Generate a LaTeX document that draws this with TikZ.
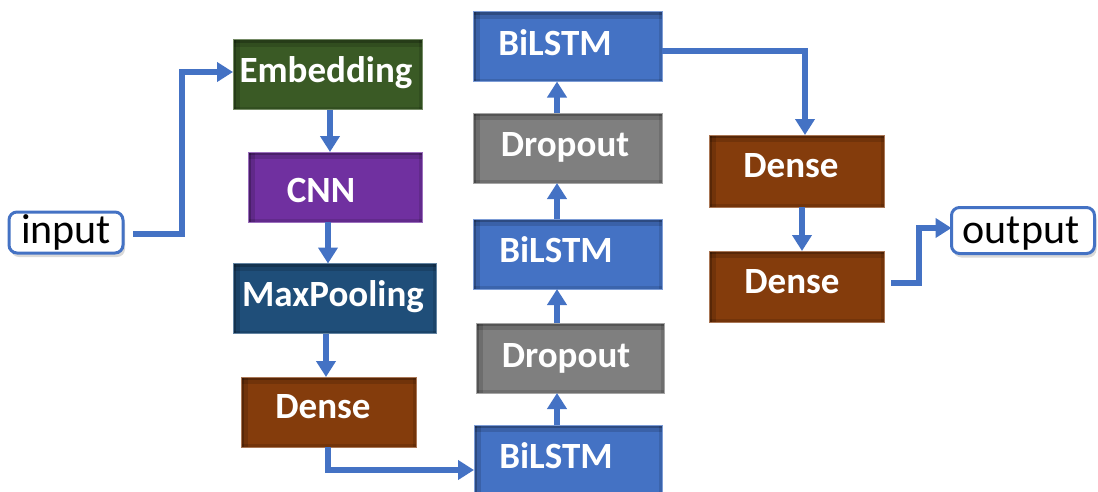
\documentclass[tikz,border=0pt]{standalone}
\usepackage{fontspec}
\setmainfont{Carlito}
\usetikzlibrary{arrows.meta,shadows}
\definecolor{arrowblue}{HTML}{4472C4}
\definecolor{embgreen}{HTML}{3A5A25}
\definecolor{cnnpurple}{HTML}{7030A0}
\definecolor{poolblue}{HTML}{1F4E79}
\definecolor{densebrown}{HTML}{843C0C}
\definecolor{lstmblue}{HTML}{4472C4}
\definecolor{dropgray}{HTML}{7F7F7F}
\tikzset{
  layer/.style={rectangle, outer sep=0pt, inner sep=0pt, fill=#1, draw=#1!70!white, line width=1pt,
    path picture={
      \fill[black,opacity=0.22] (path picture bounding box.north west) rectangle ([yshift=-3pt]path picture bounding box.north east);
      \fill[black,opacity=0.14] (path picture bounding box.north west) rectangle ([yshift=-7pt]path picture bounding box.north east);
      \fill[black,opacity=0.22] (path picture bounding box.north west) rectangle ([xshift=3pt]path picture bounding box.south west);
      \fill[black,opacity=0.14] (path picture bounding box.north west) rectangle ([xshift=7pt]path picture bounding box.south west);
      \fill[black,opacity=0.12] ([xshift=-3pt]path picture bounding box.north east) rectangle (path picture bounding box.south east);
      \fill[black,opacity=0.12] ([yshift=3pt]path picture bounding box.south west) rectangle (path picture bounding box.south east);
    }},
  lbl/.style={anchor=base, inner sep=0pt, text=white, font=\fontsize{37}{40}\selectfont\bfseries},
  iobox/.style={rectangle, rounded corners=8pt, fill=white, draw=arrowblue, line width=3pt, outer sep=0pt,
    drop shadow={opacity=0.3, shadow xshift=2pt, shadow yshift=-4pt}},
  iolbl/.style={anchor=base, inner sep=0pt, text=black, font=\fontsize{42}{45}\selectfont},
  arr/.style={draw=arrowblue, line width=6pt, -{Triangle[width=19pt,length=16pt]}},
}
\begin{document}
\begin{tikzpicture}[x=1pt,y=-1pt]
\useasboundingbox (0,0) rectangle (1098,491);
% boxes
\node[layer=embgreen, minimum width=189pt, minimum height=70pt] (emb) at (327.5,74.5) {};
\node[layer=cnnpurple, minimum width=174pt, minimum height=70pt] (cnn) at (335,187) {};
\node[layer=poolblue, minimum width=203pt, minimum height=70pt] (pool) at (334.5,298.5) {};
\node[layer=densebrown, minimum width=175pt, minimum height=70pt] (dense1) at (328.5,412) {};
\node[layer=lstmblue, minimum width=188pt, minimum height=70pt] (lstm1) at (568,460) {};
\node[layer=dropgray, minimum width=188pt, minimum height=70pt] (drop1) at (570,358) {};
\node[layer=lstmblue, minimum width=189pt, minimum height=70pt] (lstm2) at (567.5,254) {};
\node[layer=dropgray, minimum width=189pt, minimum height=70pt] (drop2) at (567.5,148) {};
\node[layer=lstmblue, minimum width=189pt, minimum height=70pt] (lstm3) at (567.5,46.5) {};
\node[layer=densebrown, minimum width=175pt, minimum height=72pt] (dense2) at (796.5,171) {};
\node[layer=densebrown, minimum width=175pt, minimum height=71pt] (dense3) at (796.5,286.5) {};
\node[iobox, minimum width=114pt, minimum height=41pt] (in) at (66,232.5) {};
\node[iobox, minimum width=143pt, minimum height=46pt] (out) at (1023,230.5) {};
% labels
\node[lbl] (tEmb) at (326,82) {Embedding};
\node[lbl] (tCnn) at (321,202) {CNN};
\node[lbl] (tPool) at (333,306) {MaxPooling};
\node[lbl] (tD1) at (323,418) {Dense};
\node[lbl] (tL1) at (556,468) {BiLSTM};
\node[lbl] (tDr1) at (566,367) {Dropout};
\node[lbl] (tL2) at (556,262) {BiLSTM};
\node[lbl] (tDr2) at (565,156) {Dropout};
\node[lbl] (tL3) at (555,55) {BiLSTM};
\node[lbl] (tD2) at (791,177) {Dense};
\node[lbl] (tD3) at (792,293) {Dense};
\node[iolbl] (tIn) at (66,243) {input};
\node[iolbl] (tOut) at (1021,243) {output};
% connectors
\draw[arr, shorten <=10pt] ([yshift=-1.5pt]in.east) -- ++(59,0) |- ([yshift=2.5pt]emb.west);
\draw[arr] (emb.south -| 330,0) -- (cnn.north -| 330,0);
\draw[arr] (cnn.south -| 328,0) -- (pool.north -| 328,0);
\draw[arr] (pool.south -| 326,0) -- (dense1.north -| 326,0);
\draw[arr] (dense1.south -| 328,0) |- ([yshift=-10pt]lstm1.west);
\draw[arr] (lstm1.north -| 557,0) -- (drop1.south -| 557,0);
\draw[arr] (drop1.north -| 557,0) -- (lstm2.south -| 557,0);
\draw[arr] (lstm2.north -| 557,0) -- (drop2.south -| 557,0);
\draw[arr] (drop2.north -| 557,0) -- (lstm3.south -| 557,0);
\draw[arr] ([yshift=-4.5pt]lstm3.east) -| (dense2.north -| 805,0);
\draw[arr] (dense2.south -| 802,0) -- (dense3.north -| 802,0);
\draw[arr, shorten <=7pt] ([yshift=3.5pt]dense3.east) -- ++(35,0) |- ([yshift=2.5pt]out.west);
\end{tikzpicture}
\end{document}
